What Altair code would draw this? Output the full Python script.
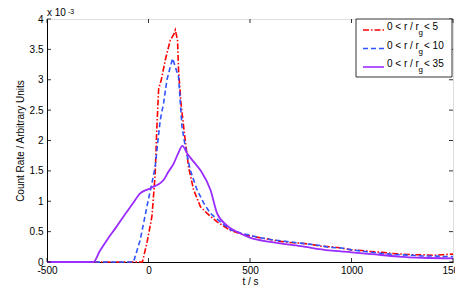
import altair as alt
import pandas as pd

# ---- data (count rate in units of 1e-3) ----
red_t = [-500, -30, -8, 17, 33, 41, 50, 63, 83, 107, 125, 132, 143, 148, 160, 181, 198, 222, 256, 289, 338,
         404, 450, 500, 550, 600, 650, 700, 750, 800, 850, 900, 950, 1000, 1050, 1100, 1150, 1200, 1250,
         1300, 1350, 1400, 1450, 1500]
red_y = [0, 0, 0.31, 0.75, 1.45, 2.2, 2.85, 3.0, 3.33, 3.65, 3.75, 3.82, 3.65, 3.16, 2.61, 2.0, 1.55, 1.19, 0.91,
         0.80, 0.66, 0.52, 0.47, 0.43, 0.40, 0.37, 0.34, 0.32, 0.31, 0.29, 0.26, 0.25, 0.23, 0.20, 0.19, 0.17,
         0.16, 0.14, 0.13, 0.12, 0.12, 0.11, 0.12, 0.13]

blue_t = [-500, -74, -41, -8, 17, 33, 45, 58, 74, 91, 107, 119, 132, 148, 157, 165, 181, 206, 239, 272, 305,
          354, 404, 450, 500, 550, 600, 650, 700, 750, 800, 850, 890, 950, 1000, 1050, 1100, 1150, 1230,
          1300, 1350, 1400, 1450, 1500]
blue_y = [0, 0, 0.36, 0.91, 1.30, 1.57, 1.95, 2.34, 2.61, 3.0, 3.21, 3.35, 3.21, 3.05, 2.61, 2.23, 1.90, 1.51,
          1.19, 0.97, 0.80, 0.66, 0.53, 0.48, 0.44, 0.40, 0.37, 0.35, 0.33, 0.31, 0.29, 0.27, 0.24, 0.23, 0.20,
          0.18, 0.16, 0.14, 0.12, 0.11, 0.10, 0.10, 0.09, 0.09]

purple_t = [-500, -271, -240, -205, -160, -123, -80, -41, 0, 25, 50, 74, 99, 124, 145, 167, 190, 220, 256, 305,
            338, 387, 453, 500, 600, 750, 890, 1000, 1100, 1230, 1350, 1500]
purple_y = [0, 0, 0.18, 0.36, 0.57, 0.75, 0.95, 1.13, 1.20, 1.24, 1.28, 1.35, 1.49, 1.62, 1.78, 1.91, 1.79,
            1.66, 1.51, 1.19, 0.80, 0.60, 0.47, 0.40, 0.33, 0.26, 0.19, 0.16, 0.13, 0.09, 0.07, 0.06]

series_names = ["0 < r / r_g < 5", "0 < r / r_g < 10", "0 < r / r_g < 35"]
series_colors = ["#ff0000", "#2f54ff", "#9a2cff"]
legend_left = ["0 < r / r", "0 < r / r", "0 < r / r"]
legend_right = ["< 5", "< 10", "< 35"]

x_ticks = [-500, 0, 500, 1000, 1500]
y_ticks = [0, 0.5, 1, 1.5, 2, 2.5, 3, 3.5, 4]

W, H = 406, 243
FONT = "Liberation Sans"

xs = alt.Scale(domain=[-500, 1500], nice=False, zero=False)
ys = alt.Scale(domain=[0, 4], nice=False)

def series_df(t, y):
    return pd.DataFrame({"t": t, "y": y})

x_axis = alt.Axis(values=x_ticks, ticks=False, grid=False, labelExpr="'' + datum.value",
                  title="t / s", titleFontWeight="normal", titleFont=FONT, titleFontSize=10,
                  labelFont=FONT, labelFontSize=10, labelColor="#000", titleColor="#000",
                  domainColor="#000", labelPadding=3, titlePadding=1, labelFlush=False,
                  labelOverlap=False)
y_axis = alt.Axis(values=y_ticks, ticks=False, grid=False, labelExpr="'' + datum.value",
                  title="Count Rate / Arbitrary Units", titleFontWeight="normal", titleFont=FONT,
                  titleFontSize=10, labelFont=FONT, labelFontSize=10, labelColor="#000",
                  titleColor="#000", domainColor="#000", labelPadding=4, titlePadding=4,
                  labelOverlap=False, labelFlush=False)

XA = lambda: alt.X("t:Q", scale=xs, axis=x_axis)
YA = lambda: alt.Y("y:Q", scale=ys, axis=y_axis)

red = alt.Chart(series_df(red_t, red_y)).mark_line(
    color=series_colors[0], strokeWidth=1.6, strokeDash=[6, 2, 1.5, 2]).encode(x=XA(), y=YA())
blue = alt.Chart(series_df(blue_t, blue_y)).mark_line(
    color=series_colors[1], strokeWidth=1.6, strokeDash=[5, 3]).encode(x=XA(), y=YA())
purple = alt.Chart(series_df(purple_t, purple_y)).mark_line(
    color=series_colors[2], strokeWidth=1.8, interpolate="monotone").encode(x=XA(), y=YA())

# inward ticks on all four sides
xt = pd.DataFrame({"t": x_ticks})
yt = pd.DataFrame({"y": y_ticks})
tk = 4
xticks_b = alt.Chart(xt).mark_rule(color="#000", strokeWidth=0.8).encode(
    x=XA(), y=alt.value(H), y2=alt.value(H - tk))
xticks_t = alt.Chart(xt).mark_rule(color="#000", strokeWidth=0.8).encode(
    x=XA(), y=alt.value(0), y2=alt.value(tk))
yticks_l = alt.Chart(yt).mark_rule(color="#000", strokeWidth=0.8).encode(
    y=YA(), x=alt.value(0), x2=alt.value(tk))
yticks_r = alt.Chart(yt).mark_rule(color="#000", strokeWidth=0.8).encode(
    y=YA(), x=alt.value(W), x2=alt.value(W - tk))

# exponent label
exp_main = alt.Chart(pd.DataFrame({"s": ["x 10"]})).mark_text(
    font=FONT, fontSize=10, align="left", baseline="alphabetic", color="#000").encode(
    text="s:N", x=alt.value(0), y=alt.value(-3))
exp_sup = alt.Chart(pd.DataFrame({"s": ["-3"]})).mark_text(
    font=FONT, fontSize=7, align="left", baseline="alphabetic", color="#000").encode(
    text="s:N", x=alt.value(21), y=alt.value(-5.5))

# legend
LX0, LX1, LY0, LY1 = 309, W - 1, 0, 58
leg_box = alt.Chart(pd.DataFrame({"a": [0]})).mark_rect(
    fill="white", stroke="#000", strokeWidth=0.8).encode(
    x=alt.value(LX0), x2=alt.value(LX1), y=alt.value(LY0), y2=alt.value(LY1))

rows_y = [11, 29.5, 48]
leg_layers = [leg_box]
dashes = [[6, 2, 1.5, 2], [5, 3], None]
for i in range(3):
    kw = dict(color=series_colors[i], strokeWidth=1.6)
    if dashes[i] is not None:
        kw["strokeDash"] = dashes[i]
    leg_layers.append(alt.Chart(pd.DataFrame({"a": [0]})).mark_rule(**kw).encode(
        x=alt.value(LX0 + 7), x2=alt.value(LX0 + 28), y=alt.value(rows_y[i])))
    leg_layers.append(alt.Chart(pd.DataFrame({"s": [legend_left[i]]})).mark_text(
        font=FONT, fontSize=10, align="left", baseline="alphabetic", color="#000").encode(
        text="s:N", x=alt.value(LX0 + 31), y=alt.value(rows_y[i])))
    leg_layers.append(alt.Chart(pd.DataFrame({"s": ["g"]})).mark_text(
        font=FONT, fontSize=8, align="left", baseline="alphabetic", color="#000").encode(
        text="s:N", x=alt.value(LX0 + 62.5), y=alt.value(rows_y[i] + 5)))
    leg_layers.append(alt.Chart(pd.DataFrame({"s": [legend_right[i]]})).mark_text(
        font=FONT, fontSize=10, align="left", baseline="alphabetic", color="#000").encode(
        text="s:N", x=alt.value(LX0 + 68), y=alt.value(rows_y[i])))

chart = alt.layer(red, blue, purple, xticks_b, xticks_t, yticks_l, yticks_r,
                  exp_main, exp_sup, *leg_layers).properties(
    width=W, height=H,
    autosize=alt.AutoSizeParams(type="none"),
    padding={"left": 39, "top": 11, "right": 2, "bottom": 30},
).configure_view(stroke="#000", strokeWidth=1).configure(background="white")

chart.save("out.html", embed_options={"renderer": "svg", "actions": False})
